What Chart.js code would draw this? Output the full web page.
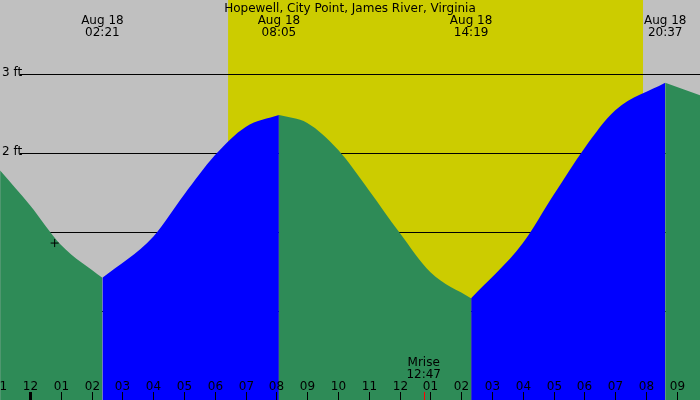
<!DOCTYPE html>
<html><head><script src="https://cdn.jsdelivr.net/npm/chart.js@4"></script>
<style>html,body{margin:0;padding:0;background:#000}canvas{display:block}</style></head>
<body><div style="width:700px;height:400px"><canvas id="c"></canvas></div>
<script>
const title = "Hopewell, City Point, James River, Virginia";
const hours = [-0.97, 0, 1, 2.35, 4, 5, 6, 7, 8.08, 9, 10, 11, 12, 13, 14.32, 16, 17, 18, 19, 20.62, 21.75];
const heights = [1.78, 1.34, 0.84, 0.42, 0.94, 1.47, 1.97, 2.33, 2.48, 2.38, 2.04, 1.53, 0.99, 0.49, 0.16, 0.86, 1.47, 2.06, 2.54, 2.89, 2.73];
const extremeIdx = [3, 8, 14, 19];
const extremeLabels = ["02:21", "08:05", "14:19", "20:37"];
const dateLabel = "Aug 18";
const hourTicks = [-1,0,1,2,3,4,5,6,7,8,9,10,11,12,13,14,15,16,17,18,19,20,21];
const hourTickLabels = ["11","12","01","02","03","04","05","06","07","08","09","10","11","12","01","02","03","04","05","06","07","08","09"];
const ftTicks = [0,1,2,3];
const dayStart = 6.43, dayEnd = 19.9;
const moonrise = 12.78, moonriseLabel = "12:47";
const plusPoint = {x: 0.8, y: 0.86};

const pts = hours.map((h,i)=>({x:h,y:heights[i]}));
const bounds = [0, ...extremeIdx, hours.length-1];
const datasets = [];
for (let k=0;k<bounds.length-1;k++){
  const seg = pts.slice(bounds[k], bounds[k+1]+1);
  const rising = seg[seg.length-1].y > seg[0].y;
  datasets.push({data: seg, fill:'start', borderWidth:0, pointRadius:0,
    backgroundColor: rising ? '#0000ff' : '#2e8b57', borderColor:'rgba(0,0,0,0)',
    cubicInterpolationMode:'monotone'});
}
const font = '12px "DejaVu Sans", sans-serif';
const deco = {
  id:'deco',
  beforeDatasetsDraw(chart){
    const {ctx, scales:{x,y}} = chart;
    ctx.save();
    ctx.fillStyle='#c0c0c0'; ctx.fillRect(0,0,700,400);
    ctx.fillStyle='#cccc00';
    ctx.fillRect(x.getPixelForValue(dayStart),0,x.getPixelForValue(dayEnd)-x.getPixelForValue(dayStart),400);
    ctx.strokeStyle='#000'; ctx.lineWidth=1;
    ctx.font=font; ctx.fillStyle='#000'; ctx.textAlign='left'; ctx.textBaseline='middle';
    ftTicks.forEach(f=>{
      const py=Math.round(y.getPixelForValue(f))+0.5;
      ctx.beginPath(); ctx.moveTo(20,py); ctx.lineTo(700,py); ctx.stroke();
      ctx.fillText(f+" ft",2,py-2);
    });
    ctx.restore();
  },
  afterDatasetsDraw(chart){
    const {ctx, scales:{x,y}} = chart;
    ctx.save();
    ctx.font=font; ctx.fillStyle='#000'; ctx.textAlign='center'; ctx.textBaseline='alphabetic';
    ctx.fillText(title,350,12);
    extremeIdx.forEach((idx,i)=>{
      const px=x.getPixelForValue(hours[idx]);
      ctx.fillText(dateLabel,px,24); ctx.fillText(extremeLabels[i],px,36);
    });
    hourTicks.forEach((h,i)=>{
      const px=Math.round(x.getPixelForValue(h))+0.5;
      ctx.fillText(hourTickLabels[i],px,390);
      ctx.lineWidth = h===0 ? 3 : 1;
      ctx.strokeStyle='#000';
      ctx.beginPath(); ctx.moveTo(px,392); ctx.lineTo(px,400); ctx.stroke();
    });
    const mx=x.getPixelForValue(moonrise);
    ctx.fillText("Mrise",mx,366); ctx.fillText(moonriseLabel,mx,378);
    ctx.strokeStyle='#ff0000'; ctx.lineWidth=1;
    ctx.beginPath(); ctx.moveTo(Math.round(mx)+0.5,392); ctx.lineTo(Math.round(mx)+0.5,400); ctx.stroke();
    const ppx=x.getPixelForValue(plusPoint.x), ppy=y.getPixelForValue(plusPoint.y);
    ctx.strokeStyle='#000';
    ctx.beginPath(); ctx.moveTo(ppx-4,ppy); ctx.lineTo(ppx+4,ppy); ctx.moveTo(ppx,ppy-4); ctx.lineTo(ppx,ppy+4); ctx.stroke();
    ctx.restore();
  }
};
new Chart(document.getElementById('c'),{
  type:'line',
  data:{datasets},
  options:{responsive:true,maintainAspectRatio:false,animation:false,
    layout:{padding:0},
    plugins:{legend:{display:false},tooltip:{enabled:false}},
    scales:{
      x:{type:'linear',min:-0.974,max:21.75,display:false},
      y:{min:-1.127,max:3.937,display:false}
    }},
  plugins:[deco]
});
</script></body></html>
